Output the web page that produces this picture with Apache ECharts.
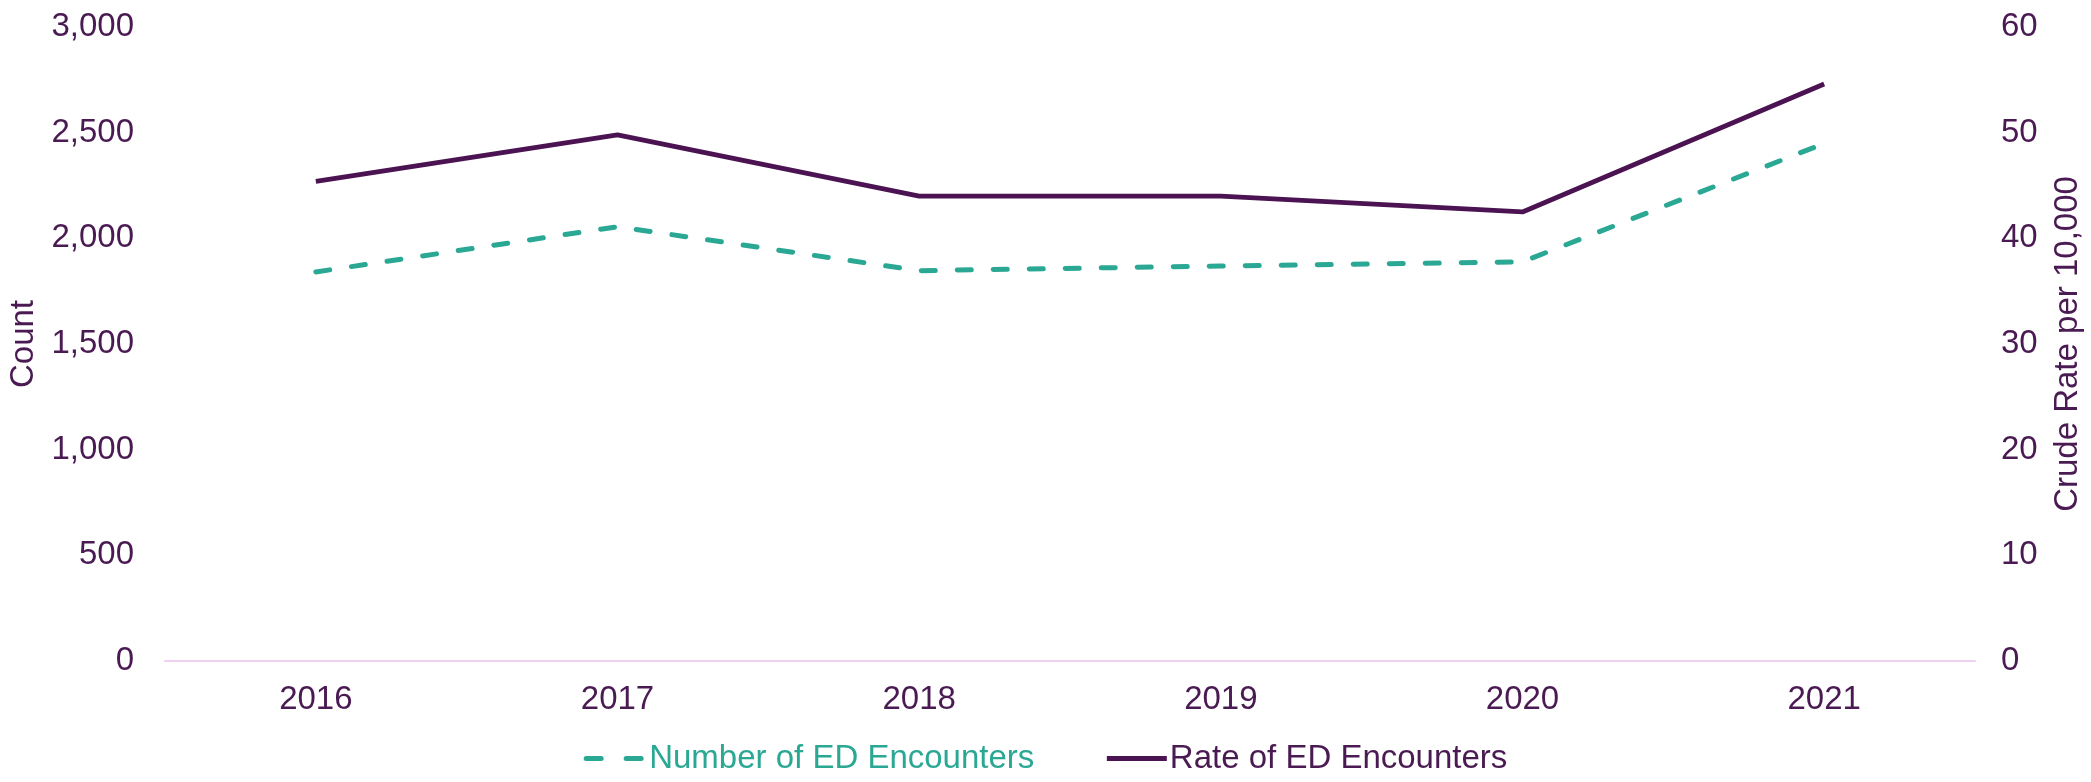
<!DOCTYPE html>
<html>
<head>
<meta charset="utf-8">
<title>ED Encounters, 2016–2021</title>
<script src="https://cdn.jsdelivr.net/npm/echarts@6/dist/echarts.min.js"></script>
<style>
  html, body { margin: 0; padding: 0; background: #ffffff; }
  #chart { width: 2091px; height: 782px; }
</style>
</head>
<body>
<div id="chart"></div>
<script>
// Years on the category axis
const years = ['2016', '2017', '2018', '2019', '2020', '2021'];
// Number of emergency department encounters (left axis)
const encounterCounts = [1841, 2055, 1847, 1869, 1889, 2449];
// Crude rate of encounters per 10,000 (right axis)
const encounterRates = [45.4, 49.8, 44.0, 44.0, 42.5, 54.6];

const seriesNames = ['Number of ED Encounters', 'Rate of ED Encounters'];

const textPurple = '#4a1a52';
const linePurple = '#4b1352';
const teal = '#2aa894';
const baseFont = 'Liberation Sans, Arial, sans-serif';
const fontSize = 33;

const tealDash = { color: teal, width: 5, type: [14, 22], cap: 'round', join: 'round' };
const purpleSolid = { color: linePurple, width: 4.8, join: 'round' };

const chart = echarts.init(document.getElementById('chart'), null, { renderer: 'canvas' });

chart.setOption({
  animation: false,
  backgroundColor: '#ffffff',
  textStyle: { fontFamily: baseFont, color: textPurple },
  grid: {
    left: 165, right: 116, top: 27, bottom: 121,
    containLabel: false,
    outerBoundsMode: 'none'
  },
  legend: {
    bottom: 2,
    left: 'center',
    itemWidth: 60,
    itemHeight: 14,
    itemGap: 70,
    itemStyle: { color: 'transparent', borderColor: 'transparent', borderWidth: 0 },
    textStyle: { fontFamily: baseFont, fontSize: fontSize, padding: [0, 0, 0, -2] },
    data: [
      {
        name: seriesNames[0],
        textStyle: { color: teal },
        lineStyle: { color: teal, width: 5, type: [15, 25], cap: 'round' }
      },
      {
        name: seriesNames[1],
        textStyle: { color: textPurple },
        lineStyle: { color: linePurple, width: 5 }
      }
    ]
  },
  xAxis: {
    type: 'category',
    data: years,
    boundaryGap: true,
    axisLine: { lineStyle: { color: '#efd0f3', width: 2 } },
    axisTick: { show: false },
    axisLabel: { color: textPurple, fontSize: fontSize, margin: 22, fontFamily: baseFont }
  },
  yAxis: [
    {
      type: 'value',
      min: 0,
      max: 3000,
      interval: 500,
      name: 'Count',
      nameLocation: 'middle',
      nameGap: 115,
      nameTextStyle: { color: textPurple, fontSize: fontSize, fontFamily: baseFont },
      splitLine: { show: false },
      axisLine: { show: false },
      axisTick: { show: false },
      axisLabel: {
        color: textPurple,
        fontSize: fontSize,
        margin: 31,
        fontFamily: baseFont,
        formatter: v => v.toLocaleString('en-US')
      }
    },
    {
      type: 'value',
      min: 0,
      max: 60,
      interval: 10,
      name: 'Crude Rate per 10,000',
      nameLocation: 'middle',
      nameGap: 76,
      nameRotate: 90,
      nameTextStyle: { color: textPurple, fontSize: fontSize, fontFamily: baseFont },
      splitLine: { show: false },
      axisLine: { show: false },
      axisTick: { show: false },
      axisLabel: { color: textPurple, fontSize: fontSize, margin: 26, fontFamily: baseFont }
    }
  ],
  series: [
    {
      name: seriesNames[0],
      type: 'line',
      yAxisIndex: 0,
      data: encounterCounts,
      symbol: 'none',
      color: teal,
      lineStyle: tealDash
    },
    {
      name: seriesNames[1],
      type: 'line',
      yAxisIndex: 1,
      data: encounterRates,
      symbol: 'none',
      color: linePurple,
      lineStyle: purpleSolid
    }
  ]
});
</script>
</body>
</html>
